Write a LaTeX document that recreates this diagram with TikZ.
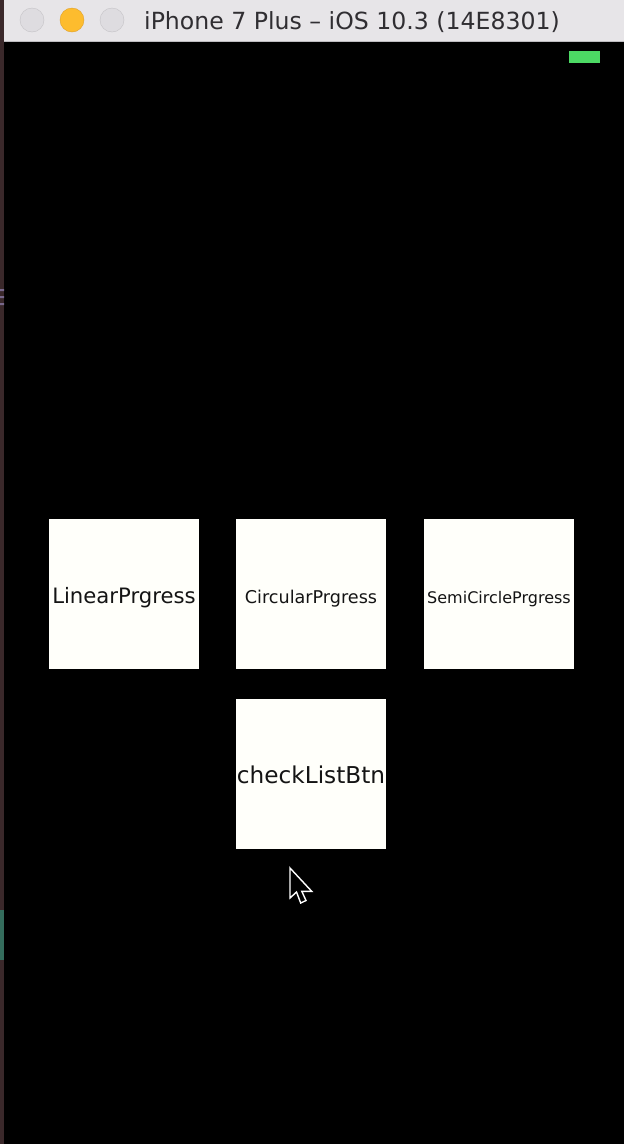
\documentclass[tikz,border=0pt]{standalone}
\usepackage{fontspec}
\setmainfont{DejaVu Sans}
\definecolor{barbg}{RGB}{231,229,232}
\definecolor{barline}{RGB}{190,188,192}
\definecolor{titletext}{RGB}{48,46,50}
\definecolor{lampgray}{RGB}{222,220,224}
\definecolor{lampedge}{RGB}{196,194,198}
\definecolor{lamporange}{RGB}{253,188,46}
\definecolor{lampodge}{RGB}{224,160,40}
\definecolor{battery}{RGB}{76,217,100}
\definecolor{strip}{RGB}{58,40,42}
\definecolor{stripmark}{RGB}{120,104,140}
\definecolor{stripgreen}{RGB}{52,108,92}
\definecolor{btnfill}{RGB}{255,255,250}
\definecolor{btntext}{RGB}{20,20,20}

\begin{document}
\begin{tikzpicture}[x=1pt,y=-1pt,line join=miter,
    btn/.style={fill=btnfill,minimum width=150pt,minimum height=150pt,inner sep=0pt},
    btnlabel/.style={anchor=base,text=btntext,inner sep=0pt}]
  \useasboundingbox (0,0) rectangle (624,1144);
  \fill[black] (0,0) rectangle (624,1144);
  \fill[strip] (0,0) rectangle (4,1144);
  \fill[stripmark] (0,289) rectangle (4,291) (0,296) rectangle (4,298) (0,303) rectangle (4,305);
  \fill[stripgreen] (0,910) rectangle (4,960);

  % window title bar
  \fill[barbg] (4,0) rectangle (624,42);
  \draw[barline] (4,41.5) -- (624,41.5);
  \filldraw[fill=lampgray,draw=lampedge] (32,20) circle[radius=12pt];
  \filldraw[fill=lamporange,draw=lampodge] (72,20) circle[radius=12pt];
  \filldraw[fill=lampgray,draw=lampedge] (112,20) circle[radius=12pt];
  \node[anchor=base,text=titletext,inner sep=0pt] (title) at (352,29)
    {\fontsize{23.6}{28}\selectfont iPhone 7 Plus – iOS 10.3 (14E8301)};
  \fill[battery] (569,51) rectangle (600,63);

  % buttons
  \node[btn] (linear) at (124,593.5) {};
  \node[btn] (circular) at (311,593.5) {};
  \node[btn] (semicircle) at (499,593.5) {};
  \node[btn] (checklist) at (311,773.5) {};
  \node[btnlabel] (linearlbl) at ([yshift=-9.5pt]linear.center)
    {\fontsize{21.2}{24}\selectfont LinearPrgress};
  \node[btnlabel] (circularlbl) at ([yshift=-10pt]circular.center)
    {\fontsize{17.6}{20}\selectfont CircularPrgress};
  \node[btnlabel] (semicirclelbl) at ([yshift=-10pt]semicircle.center)
    {\fontsize{16}{19}\selectfont SemiCirclePrgress};
  \node[btnlabel] (checklistlbl) at ([yshift=-9.5pt]checklist.center)
    {\fontsize{23.2}{26}\selectfont checkListBtn};

  % mouse pointer
  \filldraw[fill=black,draw=white,line width=1.4pt,shift={(290,868)}]
    (0,0) -- (0,30) -- (6.5,24) -- (10.7,35) -- (16,32.5) -- (11.8,23.3) -- (21.7,23.3) -- cycle;
\end{tikzpicture}
\end{document}
